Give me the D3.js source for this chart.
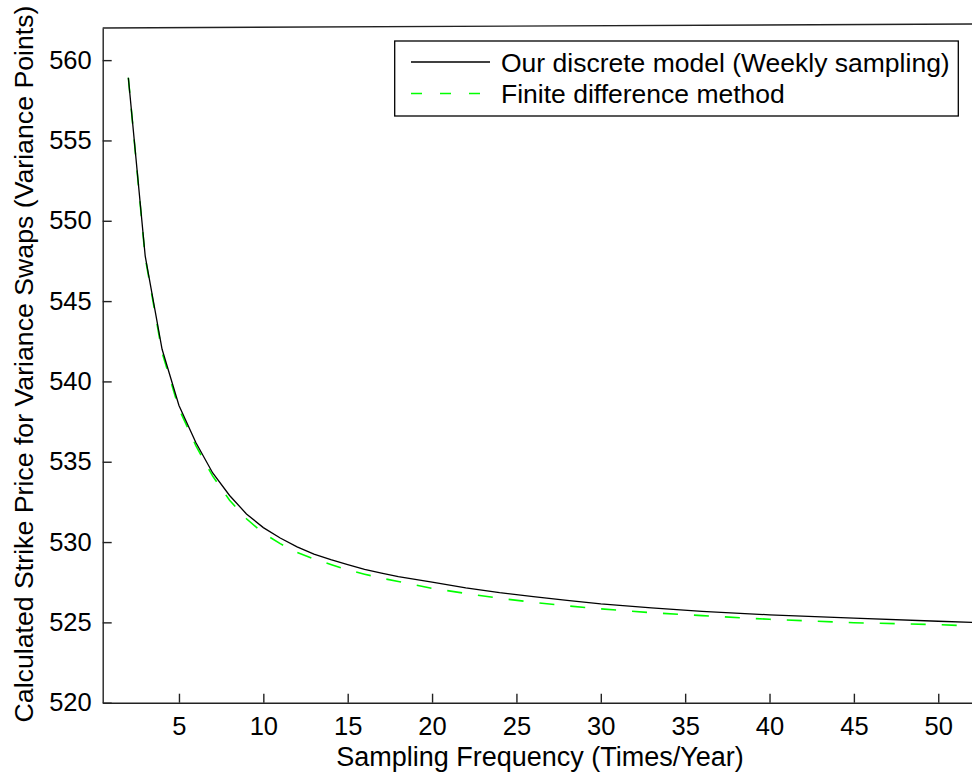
<!doctype html>
<html lang="en">
<head>
<meta charset="UTF-8">
<title>Strike price vs sampling frequency</title>
<script src="https://cdnjs.cloudflare.com/ajax/libs/d3/7.8.5/d3.min.js"></script>
<style>
    body { margin: 0; background: #fff; }
    text { font-family: "Liberation Sans", Arial, sans-serif; fill: #000; }
</style>
</head>
<body>
<svg id="chart" width="972" height="773"></svg>

<script>
    // sampling frequency (times / year)
    var freqs = [2, 3, 4, 5, 6, 7, 8, 9, 10, 11, 12, 13, 14, 15, 16, 17, 18, 20, 22, 24, 26, 28, 30, 33, 36, 40, 45, 50, 52];

    // our discrete model (weekly sampling)
    var discrete = [558.9, 547.8, 542.0, 538.5, 536.2, 534.3, 532.9, 531.75, 530.9, 530.25, 529.7, 529.25,
        528.9, 528.6, 528.3, 528.07, 527.85, 527.5, 527.15, 526.85, 526.6, 526.37, 526.15, 525.9,
        525.68, 525.47, 525.26, 525.07, 525.0];

    // finite difference method
    var finiteDiff = [558.9, 547.7, 541.8, 538.3, 536.0, 534.1, 532.6, 531.45, 530.55, 529.9, 529.35, 528.95,
        528.6, 528.27, 528.0, 527.75, 527.55, 527.12, 526.8, 526.5, 526.25, 526.03, 525.84, 525.6,
        525.42, 525.19, 524.98, 524.86, 524.78];

    var xTicks = [5, 10, 15, 20, 25, 30, 35, 40, 45, 50];
    var yTicks = [520, 525, 530, 535, 540, 545, 550, 555, 560];

    var legendLabels = ['Our discrete model (Weekly sampling)', 'Finite difference method'];

    // plot box (window.top is reserved, so different names)
    var plotLeft = 102.7, plotRight = 972, plotTop = 28, plotBottom = 702.7;

    var svg = d3.select('#chart');

    var x = d3.scaleLinear().domain([0.48, 52]).range([plotLeft, plotRight]);
    var y = d3.scaleLinear().domain([520, 562]).range([plotBottom, plotTop]);

    // top frame (a little tilted in the source figure)
    svg.append('line')
        .attr('x1', x(0.48)).attr('y1', y(562))
        .attr('x2', x(52)).attr('y2', y(562.25))
        .attr('stroke', '#222').attr('stroke-width', 1.4);

    var xAxis = svg.append('g')
        .attr('transform', 'translate(0,' + plotBottom + ')')
        .call(d3.axisBottom(x).tickValues(xTicks).tickSize(-9).tickPadding(14).tickSizeOuter(0));

    var yAxis = svg.append('g')
        .attr('transform', 'translate(' + plotLeft + ',0)')
        .call(d3.axisLeft(y).tickValues(yTicks).tickSize(-9).tickPadding(11).tickSizeOuter(0));

    [xAxis, yAxis].forEach(function (g) {
        g.select('.domain').attr('stroke', '#222').attr('stroke-width', 1.4);
        g.selectAll('.tick line').attr('stroke', '#222').attr('stroke-width', 1.4);
        g.selectAll('.tick text').attr('font-size', '25.5px')
            .attr('font-family', '"Liberation Sans", Arial, sans-serif').attr('fill', '#000');
    });

    var line = d3.line()
        .x(function (d) { return x(d[0]); })
        .y(function (d) { return y(d[1]); });

    svg.append('path')
        .datum(freqs.map(function (f, i) { return [f, finiteDiff[i]]; }))
        .attr('d', line)
        .attr('fill', 'none')
        .attr('stroke', '#00ff00')
        .attr('stroke-width', 1.6)
        .attr('stroke-dasharray', '15,16');

    svg.append('path')
        .datum(freqs.map(function (f, i) { return [f, discrete[i]]; }))
        .attr('d', line)
        .attr('fill', 'none')
        .attr('stroke', '#000')
        .attr('stroke-width', 1.3);

    // axis labels
    svg.append('text')
        .attr('x', 540).attr('y', 766)
        .attr('text-anchor', 'middle')
        .attr('font-size', '27px')
        .text('Sampling Frequency (Times/Year)');

    svg.append('text')
        .attr('transform', 'translate(33,364) rotate(-90)')
        .attr('text-anchor', 'middle')
        .attr('font-size', '26.7px')
        .text('Calculated Strike Price for Variance Swaps (Variance Points)');

    // legend
    var legend = svg.append('g');
    legend.append('rect')
        .attr('x', 394.7).attr('y', 41)
        .attr('width', 563.6).attr('height', 75)
        .attr('fill', '#fff').attr('stroke', '#000').attr('stroke-width', 1.3);

    var legendStyles = [
        { stroke: '#000', dash: null },
        { stroke: '#00ff00', dash: '11,18' }
    ];

    legendLabels.forEach(function (lab, i) {
        var cy = 62 + i * 31.5;
        legend.append('line')
            .attr('x1', 411).attr('x2', 490)
            .attr('y1', cy).attr('y2', cy)
            .attr('stroke', legendStyles[i].stroke)
            .attr('stroke-width', 1.4)
            .attr('stroke-dasharray', legendStyles[i].dash);
        legend.append('text')
            .attr('x', 501).attr('y', cy)
            .attr('dy', '0.36em')
            .attr('font-size', '26.5px')
            .text(lab);
    });
</script>
</body>
</html>
